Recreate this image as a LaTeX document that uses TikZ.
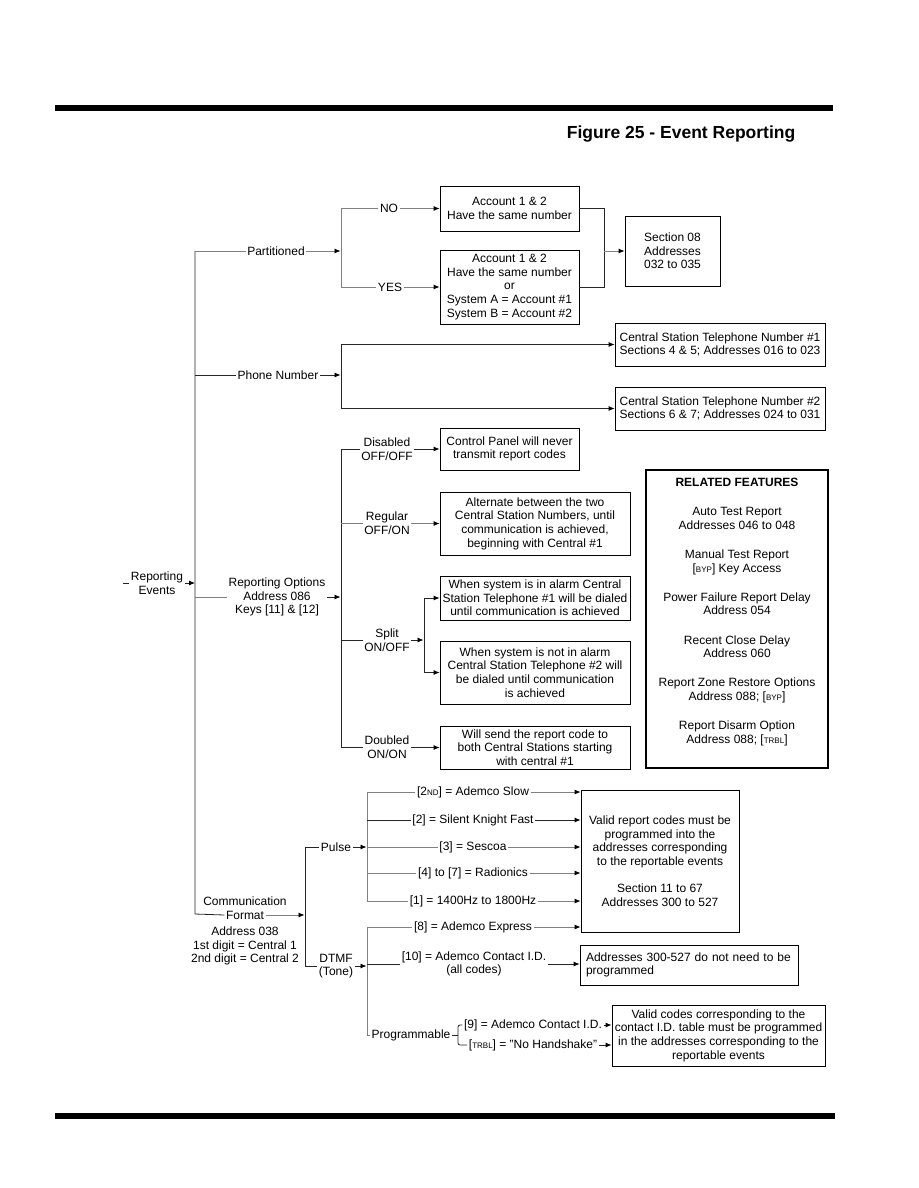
\documentclass[tikz,border=0pt]{standalone}
\usepackage{fontspec}
\setmainfont{Liberation Sans}
\usetikzlibrary{arrows.meta}
\newcommand{\smc}[1]{{\fontsize{8}{9}\selectfont #1}}
\begin{document}
\begin{tikzpicture}[x=1pt,y=-1pt,
  every node/.style={font=\fontsize{12}{13.6}\selectfont, inner sep=1.5pt},
  box/.style={draw, line width=0.8pt, align=center, inner sep=2pt},
  lab/.style={align=center},
  ln/.style={line width=0.8pt, black!85},
  gl/.style={line width=0.8pt, black!50},
  arr/.style={-{Latex[length=6pt,width=5pt,color=black]}},
]
\useasboundingbox (0,0) rectangle (918,1188);
% bars and title
\fill (55,105) rectangle (833,111);
\fill (55,1113) rectangle (835,1119);
\node[anchor=east, font=\fontsize{17.5}{20}\selectfont\bfseries] (title) at (797,134) {Figure 25 - Event Reporting};

% boxes
\node[box, minimum width=139pt, minimum height=45pt] (acc1) at (509.5,208.5) {Account 1 \& 2\\Have the same number};
\node[box, minimum width=139pt, minimum height=74pt] (acc2) at (509.5,287) {Account 1 \& 2\\Have the same number\\or\\System A = Account \#1\\System B = Account \#2};
\node[box, minimum width=95pt, minimum height=70pt] (sec08) at (672.5,251) {Section 08\\Addresses\\032 to 035};
\node[box, minimum width=210pt, minimum height=43pt] (cs1) at (720,344.5) {Central Station Telephone Number \#1\\Sections 4 \& 5; Addresses 016 to 023};
\node[box, minimum width=210pt, minimum height=43pt] (cs2) at (720,408.5) {Central Station Telephone Number \#2\\Sections 6 \& 7; Addresses 024 to 031};
\node[box, minimum width=139pt, minimum height=42pt] (dis) at (509.5,449) {Control Panel will never\\transmit report codes};
\node[box, minimum width=190pt, minimum height=63pt] (reg) at (535,523.5) {Alternate between the two\\Central Station Numbers, until\\communication is achieved,\\beginning with Central \#1};
\node[box, minimum width=190pt, minimum height=44pt] (spA) at (535,598) {When system is in alarm Central\\Station Telephone \#1 will be dialed\\until communication is achieved};
\node[box, minimum width=190pt, minimum height=63pt] (spB) at (535,672.5) {When system is not in alarm\\Central Station Telephone \#2 will\\be dialed until communication\\is achieved};
\node[box, minimum width=190pt, minimum height=43pt] (dbl) at (535,747.5) {Will send the report code to\\both Central Stations starting\\with central \#1};
\node[draw, line width=2.5pt, minimum width=182pt, minimum height=298pt] (rel) at (737,619) {};
\node[lab] (relt) at (737,612) {\textbf{RELATED FEATURES}\\[15.5pt]Auto Test Report\\Addresses 046 to 048\\[15.5pt]Manual Test Report\\{[}\smc{BYP}] Key Access\\[15.5pt]Power Failure Report Delay\\Address 054\\[15.5pt]Recent Close Delay\\Address 060\\[15.5pt]Report Zone Restore Options\\Address 088; [\smc{BYP}]\\[15.5pt]Report Disarm Option\\Address 088; [\smc{TRBL}]};
\node[box, minimum width=158pt, minimum height=142pt] (pbox) at (660,861) {Valid report codes must be\\programmed into the\\addresses corresponding\\to the reportable events\\[13.6pt]Section 11 to 67\\Addresses 300 to 527};
\node[box, align=left, text width=206pt, inner xsep=6pt, minimum height=40pt] (idbox) at (689,965) {Addresses 300-527 do not need to be\\programmed};
\node[box, minimum width=213pt, minimum height=61pt] (prbox) at (718.5,1035.5) {Valid codes corresponding to the\\contact I.D. table must be programmed\\in the addresses corresponding to the\\reportable events};

% root
\node[lab] (root) at (157,583) {Reporting\\Events};
\coordinate (rdash) at (123,583);
\draw[ln] (rdash) -- (root.west);
\draw[ln, arr] (root.east) -- (195,583);
% trunk
\node[lab] (part) at (276,251) {Partitioned};
\node[lab] (pn) at (278,375) {Phone Number};
\node[lab] (ro) at (277,597) {Reporting Options\\Address 086\\Keys [11] \& [12]};
\node[lab] (cf1) at (245,901) {Communication};
\node[lab] (cf2) at (245,915) {Format};
\node[lab] (addr) at (245,946) {Address 038\\1st digit = Central 1\\2nd digit = Central 2};
\draw[ln] (part.west -| 195,0) -- (195,914) -- (cf2.west);
\draw[gl] (195,251) -- (part.west);
\draw[gl, arr] (part.east) -- (340.5,251);
\draw[ln] (195,375) -- (pn.west);
\draw[ln, arr] (pn.east) -- (340.5,375);
\draw[gl] (195,597) -- (ro.west);
\draw[ln, arr] (ro.east) -- (340.5,597);
\draw[gl, arr] (cf2.east) -- (304.5,915);

% partitioned branch
\node[lab] (no) at (389,208.5) {NO};
\node[lab] (yes) at (390,287) {YES};
\draw[gl] (no.west -| 341,0) -- (341,287) -- (yes.west);
\draw[gl] (341,208.5) -- (no.west);
\draw[gl, arr] (no.east) -- (acc1.west);
\draw[gl, arr] (yes.east) -- (acc2.west);
\draw[ln] (acc1.east) -- (604,208.5) -- (604,287) -- (acc2.east);
\draw[gl, arr] (604,251) -- (sec08.west);

% phone number branch
\draw[ln] (341,344.5) -- (341,408.5);
\draw[ln, arr] (341,344.5) -- (cs1.west);
\draw[ln, arr] (341,408.5) -- (cs2.west);

% reporting options branch
\node[lab] (dl) at (387,449) {Disabled\\OFF/OFF};
\node[lab] (rg) at (387,523.5) {Regular\\OFF/ON};
\node[lab] (sp) at (387,640) {Split\\ON/OFF};
\node[lab] (db) at (387,747.5) {Doubled\\ON/ON};
\draw[ln] (341,449) -- (341,747.5);
\draw[ln] (341,449) -- (dl.west);
\draw[ln, arr] (dl.east) -- (dis.west);
\draw[gl] (341,523.5) -- (rg.west);
\draw[gl, arr] (rg.east) -- (reg.west);
\draw[ln] (341,640) -- (sp.west);
\draw[ln, arr] (sp.east) -- (423.5,640);
\draw[ln] (424,598) -- (424,672.5);
\draw[ln, arr] (424,598) -- (spA.west);
\draw[ln, arr] (424,672.5) -- (spB.west);
\draw[ln] (341,747.5) -- (db.west);
\draw[ln, arr] (db.east) -- (dbl.west);

% communication format branch
\node[lab] (pl) at (336,847) {Pulse};
\node[lab] (dt) at (336,966) {DTMF\\(Tone)};
\draw[ln] (305,847) -- (305,966);
\draw[ln] (305,847) -- (pl.west);
\draw[ln, arr] (pl.east) -- (366.5,847);
\draw[ln] (305,966) -- (dt.west);
\draw[ln, arr] (dt.east) -- (366.5,966);

% pulse options
\node[lab] (p1) at (473,792) {[2\smc{ND}] = Ademco Slow};
\node[lab] (p2) at (473,820) {[2] = Silent Knight Fast};
\node[lab] (p3) at (473,847) {[3] = Sescoa};
\node[lab] (p4) at (473,873) {[4] to [7] = Radionics};
\node[lab] (p5) at (473,901) {[1] = 1400Hz to 1800Hz};
\draw[gl] (367,792) -- (367,901);
\draw[gl] (367,792) -- (p1.west);
\draw[gl, arr] (p1.east) -- (p1.east -| pbox.west);
\draw[ln] (367,820) -- (p2.west);
\draw[ln, arr] (p2.east) -- (p2.east -| pbox.west);
\draw[gl] (367,847) -- (p3.west);
\draw[gl, arr] (p3.east) -- (p3.east -| pbox.west);
\draw[gl] (367,873) -- (p4.west);
\draw[gl, arr] (p4.east) -- (p4.east -| pbox.west);
\draw[gl] (367,901) -- (p5.west);
\draw[gl, arr] (p5.east) -- (p5.east -| pbox.west);

% DTMF options
\node[lab] (d1) at (473,927) {[8] = Ademco Express};
\node[lab] (d2) at (474,964) {[10] = Ademco Contact I.D.\\(all codes)};
\node[lab] (prog) at (411,1035) {Programmable};
\draw[gl] (367,927) -- (367,1035) -- (prog.west);
\draw[gl] (367,927) -- (d1.west);
\draw[gl, arr] (d1.east) -- (d1.east -| pbox.west);
\draw[ln] (367,964) -- (d2.west);
\draw[ln, arr] (d2.east) -- (d2.east -| idbox.west);
\node[lab] (n9) at (533,1025) {[9] = Ademco Contact I.D.};
\node[lab] (nt) at (533,1045) {[\smc{TRBL}] = "No Handshake"};
\draw[ln] (prog.east) -- (458,1035);
\draw[ln, rounded corners=2pt] (n9.west) -- (458,1025) -- (458,1045) -- (nt.west);
\draw[ln, arr] (n9.east) -- (n9.east -| prbox.west);
\draw[ln, arr] (nt.east) -- (nt.east -| prbox.west);
\end{tikzpicture}
\end{document}
